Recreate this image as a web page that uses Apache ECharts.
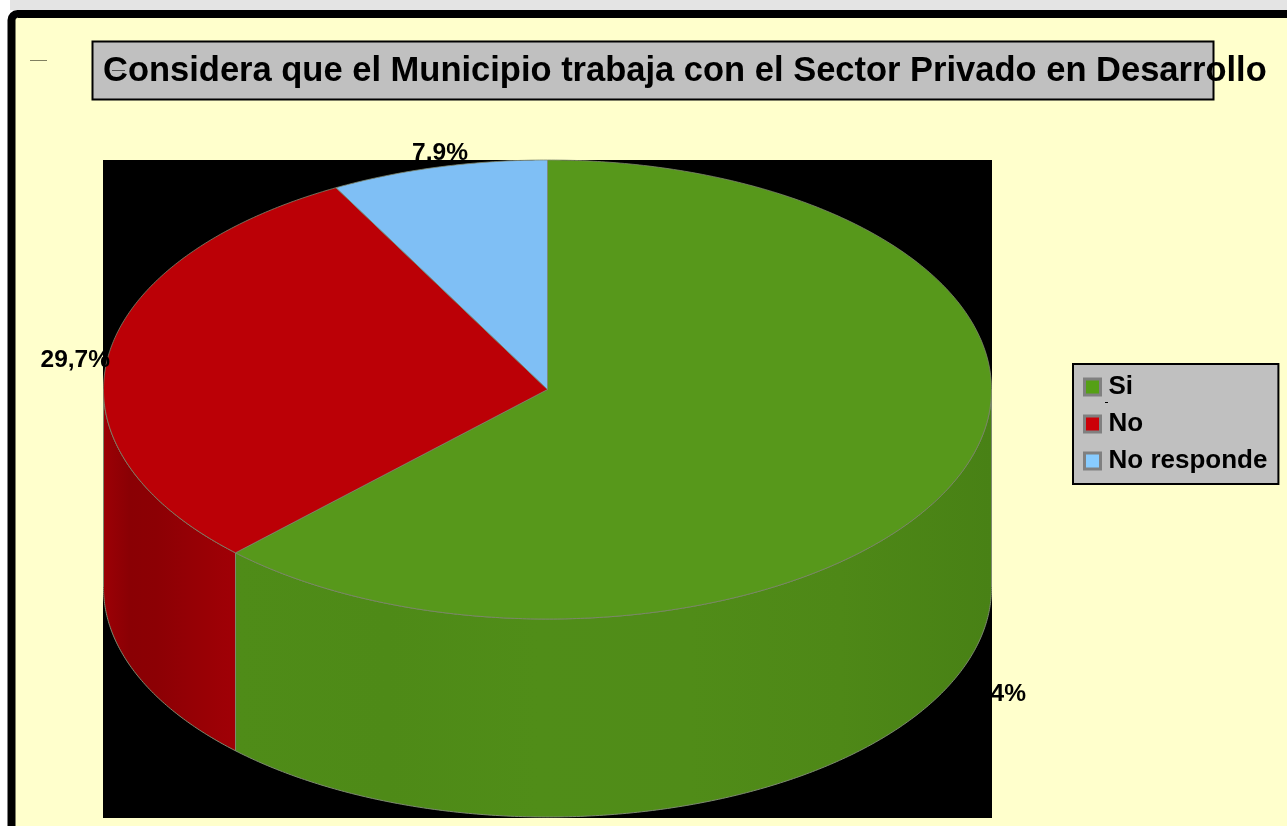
<!DOCTYPE html>
<html>
<head>
<meta charset="utf-8">
<style>
  html, body { margin: 0; padding: 0; background: #fff; }
  #main { width: 1287px; height: 826px; }
</style>
<script src="https://cdn.jsdelivr.net/npm/echarts@6/dist/echarts.min.js"></script>
</head>
<body>
<div id="main"></div>
<script>
const categories = ['Si', 'No', 'No responde']
const values = [62.4, 29.7, 7.9]
const topColors = ['#57981b', '#bb0006', '#7fbff5']
const legendColors = ['#55a015', '#cc0008', '#88ccff']
const wallStops = [
  ['#4f8c18', '#4e8a17', '#508d18', '#508c18', '#4e8817', '#488115'],
  ['#9c0005', '#8a0004', '#8c0004', '#930005', '#9a0005', '#a00006'],
  ['#6aa0cc', '#6aa0cc', '#6aa0cc', '#6aa0cc', '#6aa0cc', '#6aa0cc']
]

// ellipse of the pie top, in pixels
const cx = 547.5, cy = 389.5, rx = 444, ry = 229.5, depth = 198
const labelAt = [[1026, 694, 'right'], [110, 360, 'right'], [440, 153, 'center']]

const total = values.reduce((a, b) => a + b, 0)
const pt = (deg, dy) => {
  const a = deg * Math.PI / 180
  return [cx + rx * Math.sin(a), cy - ry * Math.cos(a) + (dy || 0)]
}
const arc = (from, to, dy) => {
  const out = []
  const n = Math.max(2, Math.ceil(Math.abs(to - from) * 2))
  for (let i = 0; i <= n; i++) out.push(pt(from + (to - from) * i / n, dy))
  return out
}

function drawSlice (idx) {
  return function (params, api) {
    const before = values.slice(0, idx).reduce((a, b) => a + b, 0)
    const start = before / total * 360
    const end = (before + api.value(0)) / total * 360
    const children = []

    // the wall only shows on the front half, 90 to 270 degrees
    const wFrom = Math.max(start, 90), wTo = Math.min(end, 270)
    if (wTo > wFrom) {
      const lower = arc(wFrom, wTo, depth)
      const upper = arc(wFrom, wTo, 0).reverse()
      const stops = wallStops[idx]
      children.push({
        type: 'polygon',
        shape: { points: lower.concat(upper) },
        style: {
          fill: new echarts.graphic.LinearGradient(0, 0, 1, 0, stops.map((c, i) => ({
            offset: i / (stops.length - 1), color: c
          }))),
          stroke: '#7d8a70',
          lineWidth: 1
        }
      })
    }

    children.push({
      type: 'polygon',
      shape: { points: [[cx, cy]].concat(arc(start, end, 0)) },
      style: { fill: topColors[idx], stroke: '#80886f', lineWidth: 0.8 }
    })

    const lab = labelAt[idx]
    children.push({
      type: 'text',
      x: lab[0],
      y: lab[1],
      style: {
        text: api.value(0).toFixed(1).replace('.', ',') + '%',
        fill: '#000',
        font: 'bold 24.5px "Liberation Sans", Arial, sans-serif',
        textAlign: lab[2],
        textVerticalAlign: 'middle'
      }
    })
    return { type: 'group', children }
  }
}

const myChart = echarts.init(document.getElementById('main'), null, { renderer: 'canvas' })

const option = {
  animation: false,
  backgroundColor: '#ffffff',
  title: {
    text: 'Considera que el Municipio trabaja con el Sector Privado en Desarrollo',
    left: 103,
    top: 54,
    padding: 0,
    z: 20,
    textStyle: {
      fontFamily: '"Liberation Sans", Arial, sans-serif',
      fontWeight: 'bold',
      fontSize: 34.5,
      color: '#000'
    }
  },
  legend: {
    orient: 'vertical',
    left: 1073,
    top: 364,
    padding: [10, 11, 10, 10],
    itemGap: 11,
    itemWidth: 16,
    itemHeight: 16,
    icon: 'rect',
    selectedMode: false,
    backgroundColor: '#c0c0c0',
    borderColor: '#000',
    borderWidth: 2,
    itemStyle: { borderColor: '#808080', borderWidth: 3 },
    textStyle: {
      fontFamily: '"Liberation Sans", Arial, sans-serif',
      fontWeight: 'bold',
      fontSize: 26,
      color: '#000',
      padding: [0, 0, 0, 3]
    },
    data: categories
  },
  graphic: [
    { type: 'rect', z: -10, shape: { x: 10, y: 0, width: 1277, height: 10 }, style: { fill: '#e4e4e4' } },
    { type: 'rect', z: -9, shape: { x: 11.5, y: 14, width: 1400, height: 1000, r: 6 }, style: { fill: '#ffffcc', stroke: '#000', lineWidth: 8 } },
    { type: 'rect', z: -8, shape: { x: 92.5, y: 41.5, width: 1121, height: 58 }, style: { fill: '#c0c0c0', stroke: '#000', lineWidth: 2 } },
    { type: 'rect', z: -8, shape: { x: 103, y: 160, width: 889, height: 658 }, style: { fill: '#000' } },
    { type: 'line', z: 30, shape: { x1: 30, y1: 60.5, x2: 47, y2: 60.5 }, style: { stroke: '#808060', lineWidth: 1 } },
    { type: 'line', z: 30, shape: { x1: 112, y1: 70.5, x2: 125, y2: 70.5 }, style: { stroke: '#505050', lineWidth: 1 } },
    { type: 'line', z: 30, shape: { x1: 1105, y1: 402.5, x2: 1108, y2: 402.5 }, style: { stroke: '#000', lineWidth: 1 } }
  ],
  series: categories.map((name, i) => ({
    name: name,
    type: 'custom',
    coordinateSystem: 'none',
    itemStyle: { color: legendColors[i] },
    renderItem: drawSlice(i),
    data: [values[i]]
  }))
}

myChart.setOption(option, true)
</script>
</body>
</html>
